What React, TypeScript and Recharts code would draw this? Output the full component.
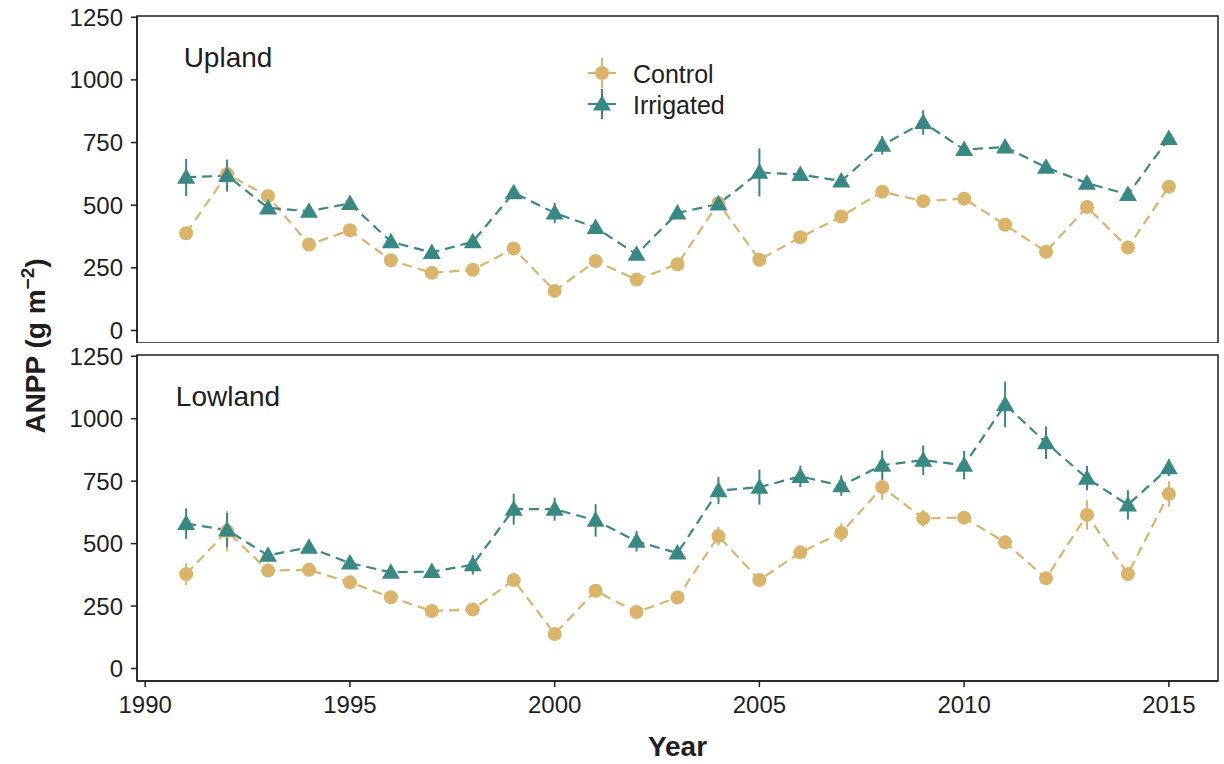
import { LineChart, Line, XAxis, YAxis, ErrorBar, ReferenceArea } from "recharts";

const CONTROL = "#D9B46A";
const IRRIGATED = "#3A8883";
const INK = "#1e1e1e";
const FONT = '"Liberation Sans", Arial, sans-serif';

const years = [
  1991, 1992, 1993, 1994, 1995, 1996, 1997, 1998, 1999, 2000, 2001, 2002, 2003,
  2004, 2005, 2006, 2007, 2008, 2009, 2010, 2011, 2012, 2013, 2014, 2015,
];

// Upland
const uplandControl = [388, 624, 536, 343, 400, 280, 230, 242, 327, 158, 277, 203, 264, 509, 282, 372, 455, 554, 516, 526, 422, 314, 493, 331, 574];
const uplandControlSe = [15, 30, 15, 12, 12, 10, 10, 10, 12, 10, 12, 10, 10, 15, 12, 10, 10, 12, 12, 12, 10, 10, 12, 10, 15];
const uplandIrrigated = [611, 618, 489, 476, 507, 354, 311, 354, 550, 469, 411, 304, 469, 505, 631, 622, 597, 739, 830, 722, 732, 651, 588, 543, 766];
const uplandIrrigatedSe = [74, 64, 15, 20, 15, 12, 20, 12, 15, 40, 10, 15, 10, 10, 96, 15, 15, 37, 49, 15, 15, 20, 20, 25, 15];

// Lowland
const lowlandControl = [378, 550, 392, 395, 345, 285, 230, 236, 354, 138, 311, 226, 284, 530, 354, 465, 543, 726, 601, 604, 505, 361, 615, 378, 699];
const lowlandControlSe = [44, 81, 15, 10, 10, 10, 10, 10, 12, 12, 20, 10, 10, 37, 10, 10, 38, 51, 34, 20, 10, 10, 59, 27, 51];
const lowlandIrrigated = [580, 554, 453, 485, 422, 385, 388, 415, 638, 638, 593, 509, 462, 712, 726, 769, 732, 814, 834, 814, 1057, 904, 762, 655, 804];
const lowlandIrrigatedSe = [61, 68, 15, 15, 10, 15, 10, 39, 62, 46, 65, 41, 15, 54, 70, 43, 41, 59, 59, 57, 91, 65, 49, 59, 34];

const xTicks = [1990, 1995, 2000, 2005, 2010, 2015];
const yTicks = [0, 250, 500, 750, 1000, 1250];
const xDomain = [1989.8, 2016.2];
const yDomain = [-50, 1255];

const toRows = (c: number[], cs: number[], ir: number[], irs: number[]) =>
  years.map((year, k) => ({
    year,
    control: c[k],
    controlSe: cs[k],
    irrigated: ir[k],
    irrigatedSe: irs[k],
  }));

const uplandRows = toRows(uplandControl, uplandControlSe, uplandIrrigated, uplandIrrigatedSe);
const lowlandRows = toRows(lowlandControl, lowlandControlSe, lowlandIrrigated, lowlandIrrigatedSe);

const circleDot = (props: any) => {
  const { cx, cy, index } = props;
  if (cx == null || cy == null) return <g key={`c${index}`} />;
  return <circle key={`c${index}`} cx={cx} cy={cy} r={7} fill={CONTROL} />;
};

const triangleDot = (props: any) => {
  const { cx, cy, index } = props;
  if (cx == null || cy == null) return <g key={`t${index}`} />;
  const pts = `${cx},${cy - 9} ${cx + 9},${cy + 6.5} ${cx - 9},${cy + 6.5}`;
  return <polygon key={`t${index}`} points={pts} fill={IRRIGATED} />;
};

const tickStyle = { fontSize: 24, fill: INK, fontFamily: FONT };
const axisStroke = { stroke: INK, strokeWidth: 1.5 };

const Panel = ({ rows, height, showX }: { rows: any[]; height: number; showX: boolean }) => (
  <LineChart width={1224} height={height} data={rows} margin={{ top: 16, right: 6, bottom: 0, left: 0 }}>
    <XAxis
      dataKey="year"
      type="number"
      domain={xDomain}
      ticks={xTicks}
      interval={0}
      allowDataOverflow
      hide={!showX}
      height={83}
      tickSize={6}
      tickMargin={9}
      tick={tickStyle}
      axisLine={axisStroke}
      tickLine={axisStroke}
      label={{
        value: "Year",
        position: "insideBottom",
        offset: 8,
        style: { fontSize: 28, fontWeight: "bold", fill: INK, fontFamily: FONT },
      }}
    />
    <YAxis
      type="number"
      domain={yDomain}
      ticks={yTicks}
      interval={0}
      allowDataOverflow
      width={137}
      tickSize={6}
      tickMargin={8}
      tick={tickStyle}
      axisLine={axisStroke}
      tickLine={axisStroke}
    />
    <ReferenceArea
      x1={xDomain[0]}
      x2={xDomain[1]}
      y1={yDomain[0]}
      y2={yDomain[1]}
      fill="none"
      stroke={INK}
      strokeWidth={1.5}
    />
    <Line
      type="linear"
      dataKey="control"
      stroke={CONTROL}
      strokeWidth={2.2}
      strokeDasharray="10 6"
      dot={circleDot}
      activeDot={false}
      isAnimationActive={false}
    >
      <ErrorBar dataKey="controlSe" direction="y" width={0} stroke={CONTROL} strokeWidth={2} isAnimationActive={false} />
    </Line>
    <Line
      type="linear"
      dataKey="irrigated"
      stroke={IRRIGATED}
      strokeWidth={2.2}
      strokeDasharray="10 6"
      dot={triangleDot}
      activeDot={false}
      isAnimationActive={false}
    >
      <ErrorBar dataKey="irrigatedSe" direction="y" width={0} stroke={IRRIGATED} strokeWidth={2} isAnimationActive={false} />
    </Line>
  </LineChart>
);

export default function App() {
  return (
    <div style={{ position: "absolute", left: 0, top: 0, width: 1224, height: 764, background: "#fff", fontFamily: FONT }}>
      <div style={{ position: "absolute", left: 0, top: 0 }}>
        <Panel rows={uplandRows} height={343} showX={false} />
      </div>
      <div style={{ position: "absolute", left: 0, top: 339 }}>
        <Panel rows={lowlandRows} height={425} showX={true} />
      </div>

      {/* panel titles, y label and legend */}
      <svg width={1224} height={764} style={{ position: "absolute", left: 0, top: 0, pointerEvents: "none" }}>
        <text x={228} y={67} textAnchor="middle" fontSize={28} fill={INK} fontFamily={FONT}>Upland</text>
        <text x={228} y={406} textAnchor="middle" fontSize={28} fill={INK} fontFamily={FONT}>Lowland</text>

        <text transform="translate(45,346) rotate(-90)" textAnchor="middle" fontSize={28} fontWeight="bold" fill={INK} fontFamily={FONT}>
          ANPP (g m<tspan dy={-11} fontSize={19}>−2</tspan><tspan dy={11}>)</tspan>
        </text>

        <g>
          <line x1={588} x2={616} y1={73} y2={73} stroke={CONTROL} strokeWidth={2} />
          <line x1={602} x2={602} y1={58} y2={88} stroke={CONTROL} strokeWidth={2} />
          <circle cx={602} cy={73} r={7} fill={CONTROL} />
          <text x={633} y={83} fontSize={25} fill={INK} fontFamily={FONT}>Control</text>

          <line x1={588} x2={616} y1={104} y2={104} stroke={IRRIGATED} strokeWidth={2} />
          <line x1={602} x2={602} y1={89} y2={119} stroke={IRRIGATED} strokeWidth={2} />
          <polygon points="602,95 611,110.5 593,110.5" fill={IRRIGATED} />
          <text x={633} y={114} fontSize={25} fill={INK} fontFamily={FONT}>Irrigated</text>
        </g>
      </svg>
    </div>
  );
}
